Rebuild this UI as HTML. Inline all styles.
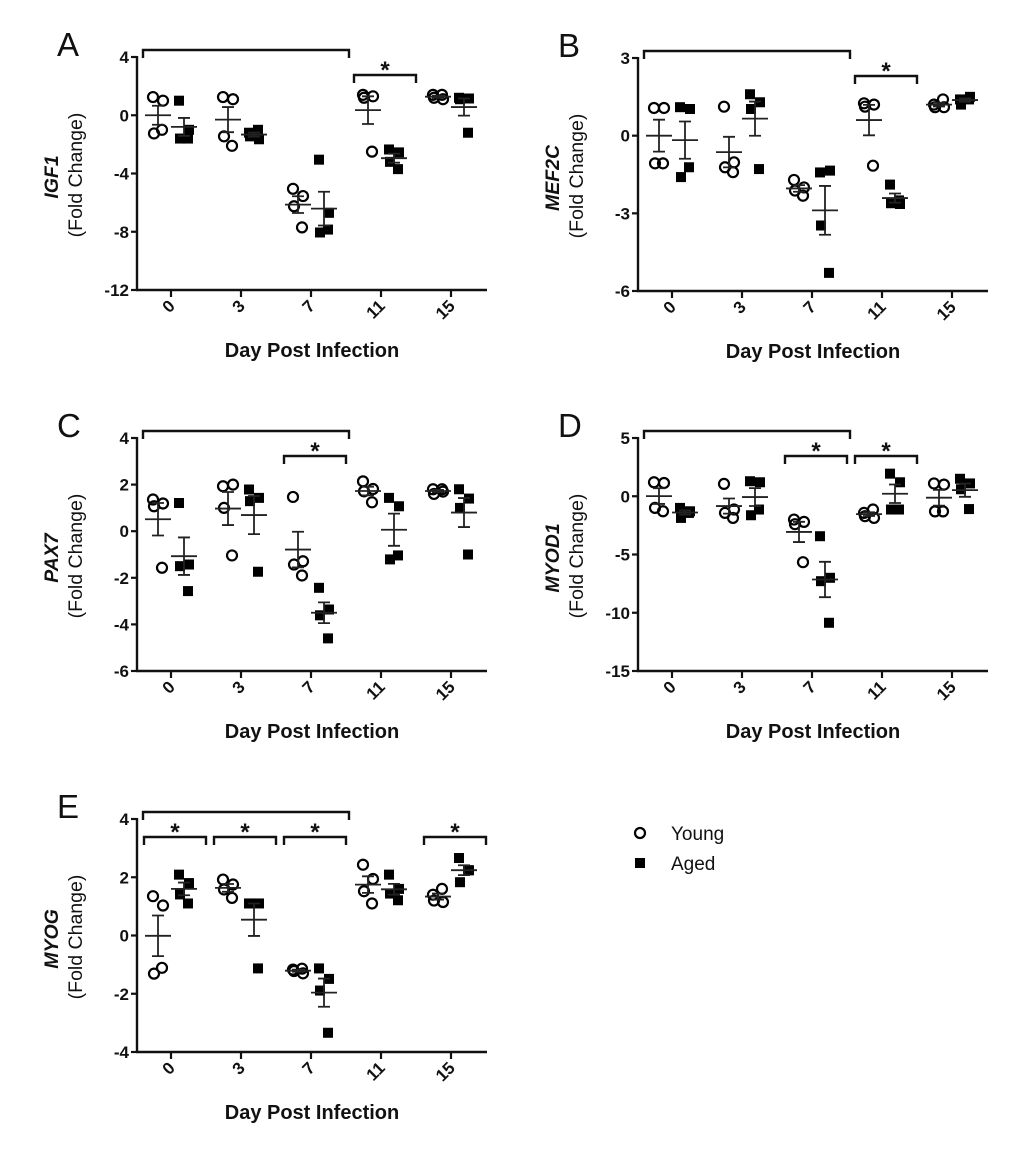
<!DOCTYPE html>
<html><head><meta charset="utf-8"><style>
html,body{margin:0;padding:0;background:#fff;}
svg{display:block;font-family:"Liberation Sans",Arial,sans-serif;}
</style></head><body>
<svg id="fig" width="1020" height="1160" viewBox="0 0 1020 1160" xmlns="http://www.w3.org/2000/svg"></svg>
<script>
const categories = ["0","3","7","11","15"];
const igf1Young = [[1.25,1.0,-1.25,-1.0],[1.25,1.1,-1.45,-2.1],[-5.05,-5.55,-6.25,-7.7],[1.4,1.3,1.2,-2.5],[1.4,1.1,1.2,1.4]];
const igf1Aged  = [[1.0,-1.0,-1.6,-1.6],[-1.2,-1.65,-1.45,-1.0],[-3.05,-6.7,-8.05,-7.85],[-2.35,-2.55,-3.2,-3.7],[1.2,1.15,1.1,-1.2]];
const mef2cYoung = [[1.07,1.07,-1.07,-1.07],[1.12,-1.03,-1.22,-1.41],[-1.71,-2.0,-2.12,-2.32],[1.25,1.2,1.12,-1.16],[1.2,1.1,1.1,1.4]];
const mef2cAged  = [[1.1,1.03,-1.6,-1.22],[1.6,1.29,1.03,-1.29],[-1.42,-1.35,-3.47,-5.3],[-1.89,-2.64,-2.61,-2.5],[1.4,1.5,1.2,1.4]];
const pax7Young = [[1.36,1.19,1.07,-1.57],[1.93,2.0,1.0,-1.04],[1.47,-1.29,-1.43,-1.9],[2.14,1.81,1.71,1.24],[1.8,1.7,1.6,1.8]];
const pax7Aged  = [[1.21,-1.43,-1.5,-2.57],[1.79,1.43,1.29,-1.74],[-2.43,-3.36,-3.61,-4.6],[1.43,1.07,-1.21,-1.04],[1.8,1.4,1.0,-1.0]];
const myod1Young = [[1.2,1.14,-1.0,-1.29],[1.06,-1.14,-1.43,-1.86],[-2.0,-2.2,-2.4,-5.66],[-1.43,-1.86,-1.71,-1.14],[1.1,1.0,-1.3,-1.3]];
const myod1Aged  = [[-1.0,-1.29,-1.86,-1.43],[1.29,1.2,-1.63,-1.14],[-3.43,-7.0,-7.29,-10.86],[1.94,1.2,-1.14,-1.14],[1.5,1.1,0.6,-1.1]];
const myogYoung = [[1.35,1.03,-1.31,-1.11],[1.92,1.75,1.58,1.29],[-1.17,-1.3,-1.22,-1.14],[2.43,1.94,1.52,1.1],[1.4,1.15,1.2,1.6]];
const myogAged  = [[2.09,1.8,1.41,1.1],[1.1,1.1,1.1,-1.13],[-1.13,-1.49,-1.89,-3.34],[2.09,1.6,1.44,1.21],[2.66,2.24,1.83,2.24]];
const igf1Ticks = [4,0,-4,-8,-12];
const mef2cTicks = [3,0,-3,-6];
const pax7Ticks = [4,2,0,-2,-4,-6];
const myod1Ticks = [5,0,-5,-10,-15];
const myogTicks = [4,2,0,-2,-4];
const igf1Sig = [3];
const mef2cSig = [3];
const pax7Sig = [2];
const myod1Sig = [2,3];
const myogSig = [0,1,2,4];

const NS="http://www.w3.org/2000/svg";
const svg=document.getElementById('fig');
function mk(tag,attrs,parent){const e=document.createElementNS(NS,tag);for(const k in attrs)e.setAttribute(k,attrs[k]);(parent||svg).appendChild(e);return e;}

function panel(opt){
  const g=mk('g',{});
  
  
  const ax=opt.ax, T=opt.top, H=233, x0=ax+34, dx=70, xEnd=ax+350;
  const ymax=opt.ticks[0], ymin=opt.ticks[opt.ticks.length-1];
  const y=v=>T+(ymax-v)/(ymax-ymin)*H;
  const xs=i=>x0+i*dx;
  const L=mk('text',{x:ax-80,y:T-1,'font-size':33,fill:'#111'},g);L.textContent=opt.letter;
  
  
  const ya=mk('line',{x1:ax,y1:T-1,x2:ax,y2:T+H+1,stroke:'#111','stroke-width':2.4},g);
  
  
  const xa=mk('line',{x1:ax-1,y1:T+H,x2:xEnd,y2:T+H,stroke:'#111','stroke-width':2.4},g);
  
  
  opt.ticks.forEach(t=>{
    mk('line',{x1:ax-6,y1:y(t),x2:ax,y2:y(t),stroke:'#111','stroke-width':2.2},g);
    const tl=mk('text',{x:ax-8,y:y(t)+6,'font-size':17,'font-weight':'bold','text-anchor':'end',fill:'#111'},g);
    tl.textContent=t;
    
    
  });
  categories.forEach((c,i)=>{
    mk('line',{x1:xs(i),y1:T+H,x2:xs(i),y2:T+H+7,stroke:'#111','stroke-width':2.2},g);
    const tl=mk('text',{x:0,y:0,'font-size':17,'font-weight':'bold','text-anchor':'end',fill:'#111',
      transform:`translate(${xs(i)+5},${T+H+17}) rotate(-45)`},g);
    tl.textContent=c;
    
    
  });
  const xt=mk('text',{x:(ax+xEnd)/2,y:T+300,'font-size':20,'font-weight':'bold','text-anchor':'middle',fill:'#111'},g);
  xt.textContent='Day Post Infection';
  
  
  const yt=mk('text',{x:0,y:0,'font-size':19.5,'font-weight':'bold','font-style':'italic','text-anchor':'middle',fill:'#111',transform:`translate(${ax-79},${T+120}) rotate(-90)`},g);
  yt.textContent=opt.gene;
  
  
  const yt2=mk('text',{x:0,y:0,'font-size':19.5,'text-anchor':'middle',fill:'#111',transform:`translate(${ax-55},${T+118}) rotate(-90)`},g);
  yt2.textContent='(Fold Change)';
  
  
  const bl=mk('path',{d:`M${xs(0)-28},${T+1} V${T-7} H${xs(2)+38} V${T+1}`,fill:'none',stroke:'#111','stroke-width':2.4},g);
  
  
  opt.sig.forEach(i=>{
    const b=mk('path',{d:`M${xs(i)-27},${T+26} V${T+18} H${xs(i)+35} V${T+26}`,fill:'none',stroke:'#111','stroke-width':2.4},g);
    
    
    const s=mk('text',{x:xs(i)+4,y:T+21,'font-size':24,'font-weight':'bold','text-anchor':'middle',fill:'#111'},g);
    s.textContent='*';
    
    
  });
  const jit=[-5,5,-4,4];
  function series(data,off,isAged){
    data.forEach((vals,i)=>{
      const cx=xs(i)+off;
      vals.forEach((v,k)=>{
        if(isAged){
          const r=mk('rect',{x:cx+jit[k]-5,y:y(v)-5,width:10,height:10,fill:'#000'},g);
          
          
        } else {
          const c=mk('circle',{cx:cx+jit[k],cy:y(v),r:5,fill:'none',stroke:'#000','stroke-width':2.2},g);
          
          
        }
      });
      const n=vals.length, m=vals.reduce((a,b)=>a+b,0)/n;
      const sd=Math.sqrt(vals.reduce((a,b)=>a+(b-m)*(b-m),0)/(n-1)), se=sd/Math.sqrt(n);
      const eb=mk('path',{d:`M${cx-13},${y(m)} H${cx+13} M${cx},${y(m+se)} V${y(m-se)} M${cx-6},${y(m+se)} H${cx+6} M${cx-6},${y(m-se)} H${cx+6}`,fill:'none',stroke:'#222','stroke-width':1.8},g);
      
      
    });
  }
  series(opt.young,-13,false);
  series(opt.aged,13,true);
}
panel({name:'igf1',letter:'A',gene:'IGF1',ax:137,top:57,ticks:igf1Ticks,young:igf1Young,aged:igf1Aged,sig:igf1Sig});
panel({name:'mef2c',letter:'B',gene:'MEF2C',ax:638,top:58,ticks:mef2cTicks,young:mef2cYoung,aged:mef2cAged,sig:mef2cSig});
panel({name:'pax7',letter:'C',gene:'PAX7',ax:137,top:438,ticks:pax7Ticks,young:pax7Young,aged:pax7Aged,sig:pax7Sig});
panel({name:'myod1',letter:'D',gene:'MYOD1',ax:638,top:438,ticks:myod1Ticks,young:myod1Young,aged:myod1Aged,sig:myod1Sig});
panel({name:'myog',letter:'E',gene:'MYOG',ax:137,top:819,ticks:myogTicks,young:myogYoung,aged:myogAged,sig:myogSig});
const lg=mk('g',{});


const lc=mk('circle',{cx:640,cy:833,r:5,fill:'none',stroke:'#000','stroke-width':2.2},lg);


const lt1=mk('text',{x:671,y:840,'font-size':19,fill:'#111'},lg);lt1.textContent='Young';


const lr=mk('rect',{x:635,y:858,width:10,height:10,fill:'#000'},lg);


const lt2=mk('text',{x:671,y:870,'font-size':19,fill:'#111'},lg);lt2.textContent='Aged';


</script>
</body></html>
